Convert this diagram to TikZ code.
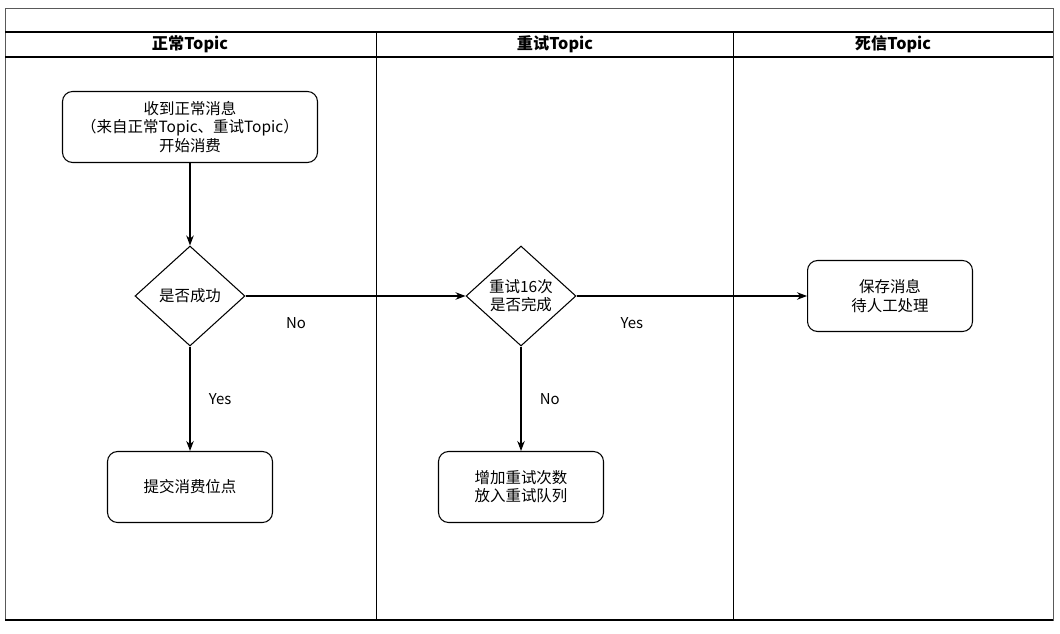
\documentclass[tikz,border=0pt]{standalone}
\usepackage{fontspec}
\setmainfont{Noto Sans CJK SC}
\usetikzlibrary{arrows.meta,positioning,shapes.geometric}

\begin{document}
\begin{tikzpicture}[
  x=0.02cm, y=-0.02cm,
  every node/.style={font=\fontsize{8.8}{10.4}\selectfont, align=center},
  lane/.style={font=\fontsize{9.2}{11}\selectfont\bfseries},
  proc/.style={draw, semithick, rounded corners=0.2cm, minimum width=3.3cm, minimum height=1.42cm},
  decide/.style={draw, semithick, diamond, minimum width=2.2cm, minimum height=2cm, inner sep=0pt},
  lbl/.style={font=\fontsize{8.5}{10}\selectfont},
  msg/.style={-Stealth, semithick}
]
\useasboundingbox (0,0) rectangle (1060,634);
\def\xA{190} \def\xB{521} \def\xC{890}
\def\yA{127} \def\yB{296} \def\yC{487}

% swimlanes
\draw[line width=0.5pt, gray!70!black] (5,8) rectangle (1053,620);
\draw[thick] (5,32) -- (1053,32);
\draw[thick] (5,57) -- (1053,57);
\draw (376,32) -- (376,620);
\draw (733,32) -- (733,620);
\draw[line width=1.5pt] (5,620) -- (1053,620);
\node[lane] (h1) at (190,44) {正常Topic};
\node[lane] (h2) at (555,44) {重试Topic};
\node[lane] (h3) at (893,44) {死信Topic};

% steps
\node[proc, minimum width=5.1cm] (recv) at (\xA,\yA) {收到正常消息\\（来自正常Topic、重试Topic）\\开始消费};
\node[decide] (ok) at (\xA,\yB) {是否成功};
\node[proc] (commit) at (\xA,\yC) {提交消费位点};
\node[decide] (done) at (\xB,\yB) {重试16次\\是否完成};
\node[proc] (retry) at (\xB,\yC) {增加重试次数\\放入重试队列};
\node[proc] (dead) at (\xC,\yB) {保存消息\\待人工处理};

\draw[msg] (recv) -- (ok);
\draw[msg] (ok) -- node[lbl, right=0.25cm]{Yes} (commit);
\draw[msg] (ok) -- node[lbl, below=0.3cm, pos=0.23]{No} (done);
\draw[msg] (done) -- node[lbl, below=0.3cm, pos=0.24]{Yes} (dead);
\draw[msg] (done) -- node[lbl, right=0.25cm]{No} (retry);
\end{tikzpicture}
\end{document}
